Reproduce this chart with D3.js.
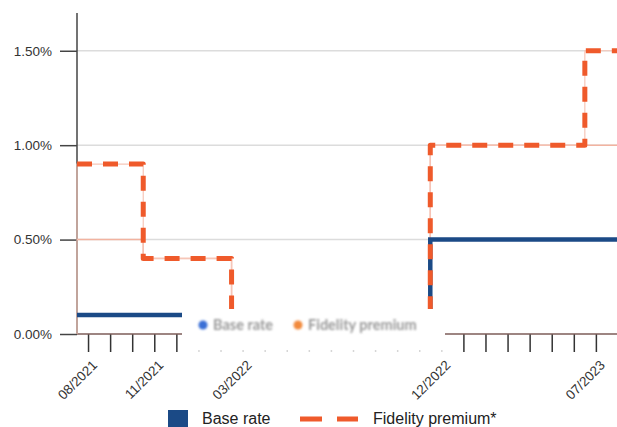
<!DOCTYPE html>
<html lang="en">
<head>
<meta charset="utf-8">
<title>Base rate and Fidelity premium</title>
<script src="https://cdn.jsdelivr.net/npm/d3@7"></script>
<style>
  body { margin: 0; background: #fff; }
  svg { display: block; font-family: "Liberation Sans", Arial, sans-serif; }
</style>
</head>
<body>
<script>
// months on the x axis, 08/2021 = index 0
var monthCount = 25;
var labelIdx = [0, 3, 7, 16, 23];
var labelText = ["08/2021", "11/2021", "03/2022", "12/2022", "07/2023"];

// rates change at band edges (half a month before the labelled month)
var stepEdges = [-0.5, 2.5, 6.5, 15.5, 22.5, 24.5];
var baseRate = [0.1, 0.1, 0.1, 0.5, 0.5];
var fidelityPremium = [0.9, 0.4, 0, 1.0, 1.5];
var premiumOnly = [0.5, 0.4, 0, 1.0, 1.0];

var yTicks = [0, 0.5, 1.0, 1.5];

var w = 617, h = 427;
var svg = d3.select("body").append("svg").attr("width", w).attr("height", h);

var x = d3.scaleLinear().domain([-0.5, 24.5]).range([77, 77 + 25 * 22.08]);
var y = d3.scaleLinear().domain([0, 1.7]).range([334, 13]);

function stepPoints(vals) {
    var pts = vals.map(function(v, i) { return [stepEdges[i], v]; });
    pts.push([stepEdges[stepEdges.length - 1], vals[vals.length - 1]]);
    return pts;
}
var line = d3.line()
    .x(function(d) { return x(d[0]); })
    .y(function(d) { return y(d[1]); })
    .curve(d3.curveStepAfter);

// gridlines
svg.selectAll("line.grid")
    .data(yTicks.slice(1))
    .enter().append("line")
    .attr("x1", 77).attr("x2", w)
    .attr("y1", function(d) { return y(d); })
    .attr("y2", function(d) { return y(d); })
    .attr("stroke", "#dcdcdc").attr("stroke-width", 1.5);

// y axis
var yAxis = d3.axisLeft(y).tickValues(yTicks).tickSize(17).tickPadding(8)
    .tickFormat(function(d) { return d3.format(".2f")(d) + "%"; });
var gy = svg.append("g").attr("transform", "translate(77,0)").call(yAxis);
gy.select(".domain").remove();
gy.selectAll(".tick line").attr("stroke", "#444").attr("stroke-width", 1.5);
gy.selectAll(".tick text").attr("font-size", "13.5px").attr("fill", "#333")
    .attr("font-family", "Liberation Sans, Arial, sans-serif");
svg.append("line").attr("x1", 77).attr("x2", 77).attr("y1", 13).attr("y2", 334)
    .attr("stroke", "#444").attr("stroke-width", 1.5);

// x axis
var months = d3.range(monthCount);
var xAxis = d3.axisBottom(x).tickValues(months).tickSize(18).tickFormat("");
var gx = svg.append("g").attr("transform", "translate(0,334)").call(xAxis);
gx.select(".domain").remove();
gx.selectAll(".tick line").attr("stroke", "#333").attr("stroke-width", 1.5);
svg.append("line").attr("x1", 77).attr("x2", w).attr("y1", 334).attr("y2", 334)
    .attr("stroke", "#7d5d58").attr("stroke-width", 1.5);

// thin underlying premium line
svg.append("path").attr("d", line(stepPoints(premiumOnly)))
    .attr("fill", "none").attr("stroke", "#f2b3a0").attr("stroke-width", 1.5);
svg.append("path").attr("d", line([[-0.5, 0]].concat(stepPoints(fidelityPremium))))
    .attr("fill", "none").attr("stroke", "#f6c6b8").attr("stroke-width", 1.2);

// base rate
svg.append("path").attr("d", line(stepPoints(baseRate)))
    .attr("fill", "none").attr("stroke", "#1b4a86").attr("stroke-width", 4.5);

// fidelity premium (dashed)
svg.append("path").attr("d", line(stepPoints(fidelityPremium)))
    .attr("fill", "none").attr("stroke", "#ef5a2b").attr("stroke-width", 5)
    .attr("stroke-dasharray", "15,11").attr("stroke-linejoin", "round");

// x labels
svg.selectAll("text.xl")
    .data(labelIdx)
    .enter().append("text")
    .attr("transform", function(d) { return "translate(" + (x(d) + 10) + ",366) rotate(-45)"; })
    .attr("text-anchor", "end")
    .attr("font-size", "13.5px").attr("fill", "#333")
    .text(function(d, i) { return labelText[i]; });

// overlaid tooltip-like legend box
var blur = svg.append("defs").append("filter").attr("id", "soft");
blur.append("feGaussianBlur").attr("stdDeviation", 0.9);
svg.append("rect").attr("x", 182).attr("y", 309).attr("width", 263).attr("height", 41)
    .attr("fill", "#fff");
svg.append("rect").attr("x", 182).attr("y", 349).attr("width", 263).attr("height", 5)
    .attr("fill", "#fff").attr("opacity", 0.8);
var ov = svg.append("g").attr("filter", "url(#soft)");
var ovItems = [{name: "Base rate", c: "#3b6fd6", x: 203}, {name: "Fidelity premium", c: "#f28a3c", x: 298}];
ov.selectAll("circle").data(ovItems).enter().append("circle")
    .attr("cx", function(d) { return d.x; }).attr("cy", 325).attr("r", 4.5)
    .attr("fill", function(d) { return d.c; });
ov.selectAll("text").data(ovItems).enter().append("text")
    .attr("x", function(d) { return d.x + 10; }).attr("y", 330)
    .attr("font-family", "Lato, sans-serif").attr("font-size", "14.5px").attr("font-weight", "bold")
    .attr("fill", "#999")
    .text(function(d) { return d.name; });

// bottom legend
svg.append("rect").attr("x", 168).attr("y", 410).attr("width", 20).attr("height", 18)
    .attr("fill", "#1b4a86");
svg.append("text").attr("x", 202).attr("y", 424).attr("font-size", "16px").attr("fill", "#222")
    .text("Base rate");
svg.append("line").attr("x1", 300).attr("x2", 358).attr("y1", 419).attr("y2", 419)
    .attr("stroke", "#ef5a2b").attr("stroke-width", 5).attr("stroke-dasharray", "22,15");
svg.append("text").attr("x", 373).attr("y", 424).attr("font-size", "16px").attr("fill", "#222")
    .text("Fidelity premium*");
</script>
</body>
</html>
